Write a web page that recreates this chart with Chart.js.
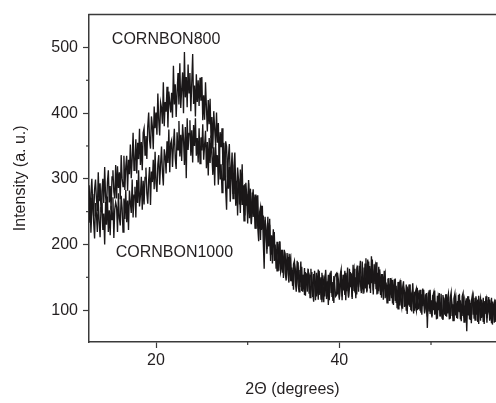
<!DOCTYPE html>
<html>
<head>
<meta charset="utf-8">
<script src="https://cdn.jsdelivr.net/npm/chart.js@4.4.0/dist/chart.umd.min.js"></script>
<style>
  html, body { margin: 0; padding: 0; background: #fff; }
  #wrap { width: 496px; height: 403px; }
</style>
</head>
<body>
<div id="wrap"><canvas id="xrd" width="496" height="403"></canvas></div>
<script>
// 2-theta grid of the scan (degrees)
const twoThetaStart = 12.7;
const twoThetaStep = 0.1;

// intensities, one value per grid step (30 per row = 3 degrees)
const cornbon800 = [
  290, 250, 278, 300, 260, 243, 284, 299, 270, 251, 310, 266, 293, 250, 281, 300, 263, 318, 273, 256, 295, 313, 264, 289, 253, 303, 313, 280, 270, 321,
  270, 319, 286, 310, 269, 336, 301, 288, 335, 283, 318, 335, 282, 329, 307, 352, 301, 330, 370, 313, 326, 360, 308, 355, 330, 376, 321, 356, 313, 370,
  377, 336, 365, 330, 380, 401, 358, 346, 395, 380, 345, 410, 377, 401, 367, 430, 389, 366, 416, 408, 384, 447, 380, 417, 402, 440, 378, 433, 416, 401,
  431, 393, 472, 413, 444, 394, 432, 461, 413, 476, 408, 436, 462, 400, 493, 424, 455, 409, 474, 431, 461, 403, 447, 490, 414, 442, 395, 459, 417, 450,
  411, 454, 419, 455, 389, 427, 390, 447, 409, 372, 420, 383, 422, 363, 394, 346, 403, 376, 351, 401, 355, 385, 325, 371, 348, 377, 321, 355, 298, 357,
  349, 302, 334, 353, 299, 313, 340, 278, 320, 340, 287, 273, 317, 299, 261, 314, 278, 322, 260, 290, 244, 294, 275, 246, 298, 254, 285, 232, 268, 284,
  244, 276, 224, 257, 275, 224, 243, 207, 259, 224, 244, 193, 242, 221, 193, 242, 198, 230, 175, 214, 195, 223, 175, 200, 163, 204, 188, 160, 204, 163,
  192, 157, 177, 192, 156, 145, 176, 181, 155, 186, 144, 165, 137, 170, 175, 144, 128, 161, 173, 136, 152, 174, 129, 154, 136, 164, 122, 156, 139, 163,
  125, 153, 163, 131, 120, 155, 143, 115, 157, 131, 162, 123, 145, 117, 157, 137, 112, 150, 156, 125, 133, 154, 115, 147, 160, 121, 143, 111, 150, 154,
  156, 124, 142, 116, 154, 162, 121, 147, 130, 160, 115, 151, 141, 121, 163, 135, 156, 120, 169, 130, 146, 118, 161, 154, 128, 167, 141, 126, 174, 136,
  131, 171, 156, 129, 177, 139, 167, 126, 182, 155, 130, 170, 140, 173, 124, 157, 129, 162, 145, 119, 155, 128, 160, 118, 142, 111, 148, 133, 114, 149,
  118, 146, 108, 136, 148, 111, 129, 102, 138, 143, 114, 105, 134, 144, 105, 127, 99, 136, 116, 139, 105, 127, 98, 141, 109, 99, 128, 133, 100, 119,
  130, 100, 118, 93, 133, 120, 95, 124, 102, 90, 127, 98, 131, 104, 91, 121, 127, 93, 113, 86, 122, 100, 126, 91, 107, 88, 123, 114, 93, 124,
  90, 117, 125, 96, 87, 121, 108, 84, 118, 125, 92, 110, 87, 123, 97, 115, 83, 121, 126, 90, 107, 84, 118, 93, 121, 86, 111, 80, 115, 122,
  87, 119, 95, 114, 82, 122, 105, 84, 116, 91, 119, 79, 108, 116, 88, 96, 120, 84, 111, 80, 113, 101, 81, 116, 90, 121, 84, 105, 88, 117
];
const cornbon1000 = [
  233, 271, 218, 254, 277, 233, 209, 263, 246, 219, 270, 235, 211, 256, 263, 222, 247, 200, 265, 230, 273, 219, 252, 214, 259, 238, 272, 210, 253, 264,
  257, 219, 278, 240, 229, 274, 256, 219, 270, 239, 283, 234, 267, 222, 282, 264, 248, 299, 241, 275, 288, 241, 298, 263, 313, 258, 275, 303, 253, 297,
  261, 302, 317, 278, 262, 298, 318, 260, 311, 295, 329, 284, 341, 293, 280, 322, 336, 291, 322, 349, 310, 290, 345, 335, 308, 357, 324, 375, 310, 354,
  359, 318, 351, 376, 331, 315, 371, 344, 388, 334, 367, 327, 383, 361, 321, 379, 301, 392, 344, 369, 389, 335, 374, 325, 382, 350, 392, 335, 362, 325,
  377, 323, 363, 343, 383, 329, 351, 373, 316, 356, 305, 362, 324, 366, 335, 306, 348, 290, 353, 318, 336, 291, 354, 299, 322, 279, 333, 297, 336, 283,
  253, 327, 285, 318, 265, 302, 324, 270, 284, 313, 259, 297, 244, 300, 283, 248, 305, 260, 288, 236, 292, 259, 277, 232, 293, 240, 266, 231, 279, 242,
  272, 225, 254, 274, 226, 205, 249, 257, 222, 259, 205, 163, 237, 222, 186, 233, 197, 239, 184, 208, 171, 208, 219, 176, 193, 160, 201, 171, 205, 158,
  165, 192, 149, 177, 183, 150, 187, 156, 142, 172, 179, 144, 161, 131, 171, 162, 135, 175, 140, 128, 161, 142, 166, 128, 154, 123, 158, 145, 128, 159,
  155, 119, 147, 158, 127, 113, 160, 140, 121, 147, 116, 160, 128, 150, 112, 153, 141, 121, 161, 117, 144, 108, 148, 157, 126, 140, 114, 152, 137, 121,
  123, 157, 146, 119, 135, 160, 115, 154, 145, 123, 157, 129, 165, 119, 133, 158, 143, 117, 155, 163, 127, 150, 124, 168, 135, 159, 175, 129, 151, 125,
  165, 134, 179, 127, 155, 174, 133, 163, 141, 177, 124, 159, 167, 133, 149, 125, 166, 137, 123, 155, 146, 116, 149, 156, 121, 139, 114, 149, 123, 141,
  145, 110, 134, 147, 114, 137, 103, 143, 119, 107, 146, 125, 102, 136, 129, 106, 139, 94, 129, 108, 139, 100, 124, 132, 95, 128, 106, 99, 134, 102,
  103, 131, 96, 124, 106, 131, 97, 107, 126, 73, 119, 130, 94, 115, 89, 123, 100, 130, 95, 111, 87, 121, 115, 90, 125, 96, 85, 119, 108, 91,
  124, 95, 113, 86, 119, 127, 91, 109, 84, 116, 121, 88, 114, 98, 125, 86, 107, 91, 120, 82, 116, 110, 68, 121, 92, 116, 85, 113, 122, 93,
  112, 85, 121, 93, 116, 79, 110, 118, 88, 106, 82, 114, 94, 121, 81, 110, 97, 116, 86, 119, 78, 107, 112, 82, 103, 87, 117, 79, 108, 114
];

const seriesNames = ["CORNBON800", "CORNBON1000"];
const xTickLabels = [20, 40];
const xMinorTicks = [30, 50];
const yTickLabels = [100, 200, 300, 400, 500];
const yMinorTicks = [150, 250, 350, 450];

const fontFamily = '"Liberation Sans", Arial, Helvetica, sans-serif';
const inkColor = "#231f20";
const lineColor = "#1a1718";
const axisColor = "#3a3a3a";

// sample names written inside the plot (in data coordinates)
const sampleLabels = [
  { text: seriesNames[0], x: 21.1, y: 512 },
  { text: seriesNames[1], x: 22.0, y: 187 }
];

function toPoints(values) {
  return values.map((v, i) => ({ x: twoThetaStart + i * twoThetaStep, y: v }));
}

const framePlugin = {
  id: "frame",
  afterDraw(chart) {
    const { ctx, chartArea: a } = chart;
    const xs = chart.scales.x, ys = chart.scales.y;
    ctx.save();
    ctx.strokeStyle = axisColor;
    ctx.lineWidth = 1.5;
    ctx.beginPath();
    ctx.moveTo(a.left - 0.75, a.top);
    ctx.lineTo(a.right, a.top);
    ctx.stroke();

    // short minor ticks
    ctx.lineWidth = 1.2;
    xMinorTicks.forEach(v => {
      const px = xs.getPixelForValue(v);
      ctx.beginPath();
      ctx.moveTo(px, a.bottom);
      ctx.lineTo(px, a.bottom + 3);
      ctx.stroke();
    });
    yMinorTicks.forEach(v => {
      const py = ys.getPixelForValue(v);
      ctx.beginPath();
      ctx.moveTo(a.left, py);
      ctx.lineTo(a.left - 3, py);
      ctx.stroke();
    });

    ctx.fillStyle = inkColor;
    ctx.font = "16px " + fontFamily;
    ctx.textAlign = "center";
    ctx.textBaseline = "middle";
    sampleLabels.forEach(l => {
      ctx.fillText(l.text, xs.getPixelForValue(l.x), ys.getPixelForValue(l.y));
    });
    ctx.restore();
  }
};

const ctx = document.getElementById("xrd").getContext("2d");
new Chart(ctx, {
  type: "line",
  data: {
    datasets: [
      {
        label: seriesNames[0],
        data: toPoints(cornbon800),
        borderColor: lineColor,
        borderWidth: 1.35,
        pointRadius: 0,
        tension: 0
      },
      {
        label: seriesNames[1],
        data: toPoints(cornbon1000),
        borderColor: lineColor,
        borderWidth: 1.35,
        pointRadius: 0,
        tension: 0
      }
    ]
  },
  options: {
    responsive: false,
    animation: false,
    layout: { padding: { top: 9, left: 0, right: 0, bottom: 0 } },
    plugins: {
      legend: { display: false },
      tooltip: { enabled: false }
    },
    scales: {
      x: {
        type: "linear",
        min: 12.69,
        max: 57.09,
        afterBuildTicks: s => { s.ticks = xTickLabels.map(v => ({ value: v })); },
        afterFit: s => { s.height = 61; },
        border: { color: axisColor, width: 1.5 },
        grid: { drawOnChartArea: false, tickLength: 6, tickColor: axisColor, tickWidth: 1.2 },
        ticks: { color: inkColor, font: { family: fontFamily, size: 16 }, padding: 3, maxRotation: 0 },
        title: {
          display: true,
          text: "2\u0398 (degrees)",
          color: inkColor,
          font: { family: fontFamily, size: 16 },
          padding: { top: 0, bottom: 4 }
        }
      },
      y: {
        min: 51.5,
        max: 550,
        afterBuildTicks: s => { s.ticks = yTickLabels.map(v => ({ value: v })); },
        afterFit: s => { s.width = 89; },
        border: { color: axisColor, width: 1.5 },
        grid: { drawOnChartArea: false, tickLength: 6, tickColor: axisColor, tickWidth: 1.2 },
        ticks: { color: inkColor, font: { family: fontFamily, size: 16 }, padding: 5 },
        title: {
          display: true,
          text: "Intensity (a. u.)",
          color: inkColor,
          font: { family: fontFamily, size: 16 },
          padding: { top: 11, bottom: 0 }
        }
      }
    }
  },
  plugins: [framePlugin]
});
</script>
</body>
</html>
